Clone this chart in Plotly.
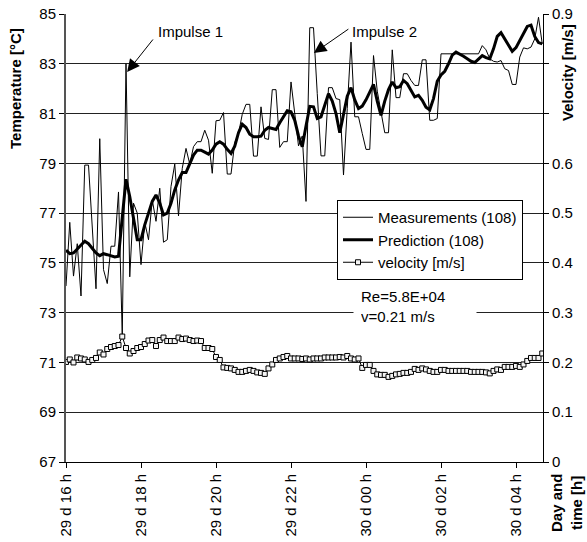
import plotly.graph_objects as go

# time index: one sample every 6 minutes starting 29 d 16 h
tick_index = [0, 20, 40, 60, 80, 100, 120]
tick_labels = ["29 d 16 h", "29 d 18 h", "29 d 20 h", "29 d 22 h",
               "30 d 00 h", "30 d 02 h", "30 d 04 h"]
vel_ticks = [0, 0.1, 0.2, 0.3, 0.4, 0.5, 0.6, 0.7, 0.8, 0.9]
vel_tick_labels = ["0", "0.1", "0.2", "0.3", "0.4", "0.5", "0.6", "", "", "0.9"]

measurements = [
    74.07, 76.63, 74.47, 75.77, 73.67, 78.93, 78.93, 76.4, 73.96, 79.99,
    74.73, 74.17, 75.67, 75.67, 77.85, 72.1, 83.0, 74.44, 77.4, 77.0,
    74.93, 76.63, 75.93, 77.53, 76.67, 78.0, 75.83, 75.93, 78.07, 78.97,
    76.89, 78.8, 79.6, 78.97, 79.67, 79.87, 79.87, 80.33, 79.93, 78.6,
    80.71, 80.73, 81.04, 78.57, 78.57, 79.83, 80.2, 80.97, 81.37, 81.37,
    79.29, 79.29, 81.27, 80.0, 79.96, 81.96, 81.96, 79.64, 79.87, 79.87,
    82.27, 81.0, 79.7, 80.1, 77.47, 84.45, 84.45, 81.8, 79.3, 79.3,
    82.04, 82.04, 81.6, 81.56, 78.53, 81.2, 83.87, 80.87, 80.87, 80.2,
    79.56, 79.56, 83.33, 81.9, 81.13, 80.23, 80.23, 83.56, 81.64, 81.64,
    82.6, 82.6, 82.33, 82.13, 82.13, 83.16, 83.16, 80.73, 80.73, 80.8,
    83.4, 83.4, 83.4, 83.4, 83.4, 83.4, 83.4, 83.4, 83.4, 83.4,
    83.4, 83.73, 83.56, 83.2, 83.1, 83.07, 83.13, 82.8, 82.73, 82.17,
    82.17, 83.27, 83.64, 83.6, 83.67, 84.0, 84.87, 83.8,
]

prediction = [
    75.51, 75.37, 75.4, 75.56, 75.73, 75.87, 75.77, 75.56, 75.4, 75.29,
    75.37, 75.33, 75.27, 75.24, 75.27, 76.8, 78.36, 77.67, 76.73, 75.93,
    75.93, 76.53, 77.0, 77.47, 77.73, 77.4, 76.93, 77.0, 77.4, 77.93,
    78.33, 78.63, 78.63, 78.97, 79.33, 79.53, 79.53, 79.45, 79.37, 79.53,
    79.77, 79.87, 79.77, 79.56, 79.4, 79.69, 80.23, 80.57, 80.44, 80.17,
    80.07, 80.07, 80.09, 80.33, 80.44, 80.4, 80.36, 80.63, 80.89, 81.11,
    81.07, 80.73, 80.1, 79.67, 80.5, 81.29, 81.27, 80.8, 80.87, 81.3,
    81.8, 81.5, 81.0, 80.23, 80.9, 81.7, 82.04, 81.55, 81.2, 81.3,
    81.55, 81.83, 82.17, 81.5, 80.93, 81.5, 81.96, 82.27, 82.04, 82.08,
    82.33, 82.2, 81.96, 81.67, 81.73, 81.53, 81.25, 81.15, 81.6, 82.3,
    82.55, 82.7, 83.0, 83.35, 83.47, 83.4, 83.3, 83.2, 83.1, 83.05,
    83.2, 83.33, 83.25, 83.2, 83.6, 84.1, 84.25, 84.0, 83.7, 83.5,
    83.65, 83.95, 84.25, 84.5, 84.55, 84.1, 83.85, 83.8,
]

velocity = [
    0.201, 0.206, 0.200, 0.210, 0.208, 0.206, 0.201, 0.205, 0.209, 0.220,
    0.216, 0.227, 0.231, 0.233, 0.235, 0.252, 0.229, 0.218, 0.223, 0.229,
    0.231, 0.237, 0.244, 0.245, 0.233, 0.245, 0.250, 0.243, 0.243, 0.243,
    0.250, 0.247, 0.248, 0.245, 0.243, 0.244, 0.243, 0.229, 0.229, 0.227,
    0.211, 0.205, 0.190, 0.189, 0.188, 0.185, 0.181, 0.181, 0.183, 0.185,
    0.183, 0.180, 0.179, 0.177, 0.188, 0.196, 0.205, 0.208, 0.211, 0.213,
    0.208, 0.208, 0.208, 0.207, 0.208, 0.206, 0.208, 0.208, 0.208, 0.210,
    0.210, 0.210, 0.210, 0.211, 0.210, 0.213, 0.208, 0.206, 0.208, 0.189,
    0.195, 0.195, 0.183, 0.176, 0.175, 0.175, 0.171, 0.173, 0.176, 0.177,
    0.179, 0.179, 0.181, 0.187, 0.185, 0.188, 0.186, 0.183, 0.181, 0.181,
    0.185, 0.185, 0.183, 0.183, 0.183, 0.183, 0.183, 0.183, 0.181, 0.181,
    0.181, 0.181, 0.180, 0.178, 0.183, 0.186, 0.185, 0.191, 0.191, 0.191,
    0.193, 0.191, 0.196, 0.203, 0.209, 0.209, 0.209, 0.218,
]

idx = list(range(len(measurements)))
FONT = "Liberation Sans, Arial, sans-serif"

fig = go.Figure()
fig.add_trace(go.Scatter(x=idx, y=measurements, mode="lines", name="Measurements (108)",
                         line=dict(color="black", width=1)))
fig.add_trace(go.Scatter(x=idx, y=prediction, mode="lines", name="Prediction (108)",
                         line=dict(color="black", width=3)))
fig.add_trace(go.Scatter(x=idx, y=velocity, mode="lines+markers", name="velocity [m/s]",
                         yaxis="y2", line=dict(color="black", width=1),
                         marker=dict(symbol="square", size=5, color="#f4f4f4",
                                     line=dict(color="black", width=1))))

L, R, T, B = 66, 44, 14, 80
W, H = 587, 542
pw, ph = W - L - R, H - T - B

def px(xp):
    return (xp - L) / pw

def py(yp):
    return (H - B - yp) / ph

fig.update_layout(
    width=W, height=H,
    margin=dict(l=L, r=R, t=T, b=B, autoexpand=False),
    paper_bgcolor="white", plot_bgcolor="white",
    font=dict(family=FONT, size=15, color="black"),
    showlegend=True,
    legend=dict(x=px(337), y=py(200), xanchor="left", yanchor="top",
                bgcolor="white", bordercolor="black", borderwidth=1,
                font=dict(family=FONT, size=15), itemwidth=30,
                tracegroupgap=0),
    xaxis=dict(range=[0, 127.2], tickmode="array", tickvals=tick_index,
               ticktext=tick_labels, tickangle=-90, ticks="outside",
               ticklen=5, tickcolor="black", showline=True, linecolor="black",
               linewidth=1, showgrid=False, zeroline=False, automargin=False,
               tickfont=dict(family=FONT, size=15)),
    yaxis=dict(range=[67, 85], dtick=2, tick0=67, ticks="outside", ticklen=5,
               tickcolor="black", showline=True, linecolor="#555", linewidth=2,
               showgrid=True, gridcolor="#222", gridwidth=1, zeroline=False,
               automargin=False, tickfont=dict(family=FONT, size=15)),
    yaxis2=dict(range=[0, 0.9], tickmode="array", tickvals=vel_ticks,
                ticktext=vel_tick_labels, overlaying="y", side="right",
                ticks="outside", ticklen=5, tickcolor="black", showline=True,
                linecolor="black", linewidth=1, showgrid=False, zeroline=False,
                automargin=False, tickfont=dict(family=FONT, size=15)),
)

ann = []
ann.append(dict(xref="paper", yref="paper", x=px(15), y=py(89),
                xanchor="center", yanchor="middle",
                text="<b>Temperature [°C]</b>", textangle=-90, showarrow=False,
                font=dict(family=FONT, size=15)))
ann.append(dict(xref="paper", yref="paper", x=px(567), y=py(73),
                xanchor="center", yanchor="middle",
                text="<b>Velocity [m/s]</b>", textangle=-90, showarrow=False,
                font=dict(family=FONT, size=15)))
ann.append(dict(xref="paper", yref="paper", x=px(566), y=py(503),
                xanchor="center", yanchor="middle",
                text="<b>Day and<br>time [h]</b>", textangle=-90, showarrow=False,
                font=dict(family=FONT, size=15)))
# Impulse labels and arrows
ann.append(dict(xref="paper", yref="paper", x=px(156), y=py(31), xanchor="left",
                yanchor="middle",
                text="Impulse 1", showarrow=False, font=dict(family=FONT, size=15)))
ann.append(dict(xref="x", yref="y", x=16.3, y=82.67, ax=27, ay=-34, text="",
                showarrow=True, arrowhead=2, arrowsize=2.5, arrowwidth=1,
                arrowcolor="black"))
ann.append(dict(xref="paper", yref="paper", x=px(350), y=py(31), xanchor="left",
                yanchor="middle",
                text="Impulse 2", showarrow=False, font=dict(family=FONT, size=15)))
ann.append(dict(xref="x", yref="y", x=66.1, y=83.43, ax=36, ay=-25, text="",
                showarrow=True, arrowhead=2, arrowsize=2.5, arrowwidth=1,
                arrowcolor="black"))
ann.append(dict(xref="paper", yref="paper", x=px(353), y=py(306), xanchor="left",
                yanchor="middle", align="left", width=108,
                text="Re=5.8E+04<br>v=0.21 m/s", showarrow=False,
                bgcolor="white", borderpad=7, font=dict(family=FONT, size=15)))
fig.update_layout(annotations=ann)

fig.write_html("out.html")
